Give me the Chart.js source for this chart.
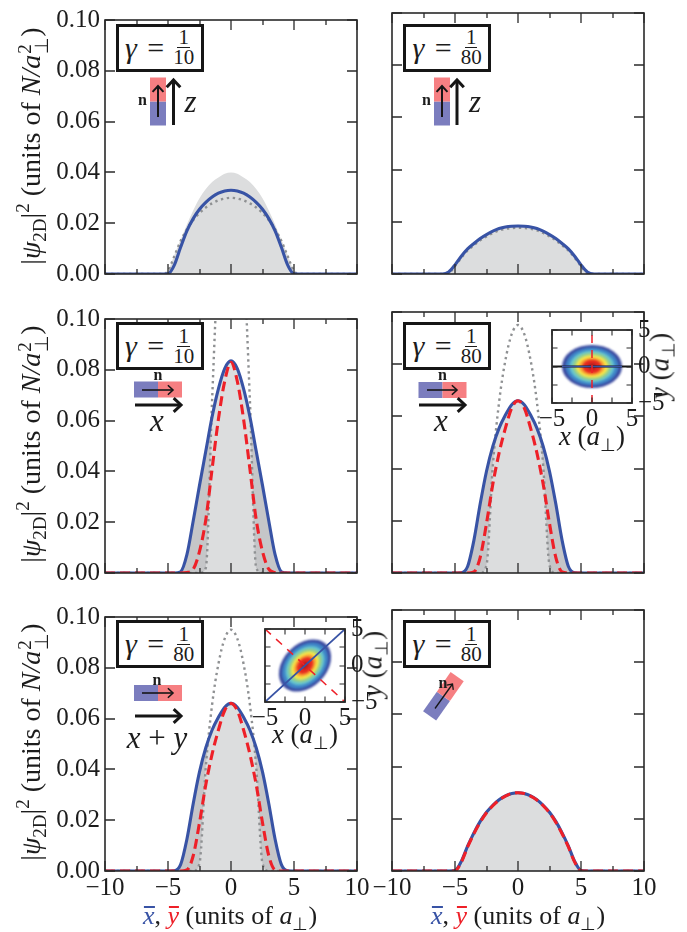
<!DOCTYPE html>
<html>
<head>
<meta charset="utf-8">
<script src="https://cdn.jsdelivr.net/npm/chart.js@4"></script>
<style>
  html, body { margin: 0; padding: 0; background: #fff; }
  #page { position: relative; width: 687px; height: 932px; overflow: hidden; font-family: "Liberation Serif", serif; color: #1c1c1c; }
  canvas { position: absolute; }
  svg { position: absolute; left: 0; top: 0; }
  .t { position: absolute; white-space: nowrap; transform: translate(-50%, -50%); line-height: 1; }
  .v { transform: translate(-50%, -50%) rotate(-90deg); }
  .box { position: absolute; box-sizing: border-box; width: 88px; height: 48px; border: 3px solid #161616; background: #fff;
         display: flex; align-items: center; justify-content: center; font-size: 30px; word-spacing: 3px; }
  .frac { display: inline-flex; flex-direction: column; align-items: center; font-size: 21px; line-height: 19px; margin-left: 9px; }
  .frac b { font-weight: normal; border-bottom: 1.6px solid #1c1c1c; padding: 0 1px; }
  .ss { display: inline-flex; flex-direction: column; font-size: .68em; line-height: .85em; vertical-align: middle; margin-left: 1px; }
  sub { font-size: .68em; line-height: 0; }
  sup { font-size: .68em; line-height: 0; }
  .bar { position: relative; }
  .bar::before { content: ''; position: absolute; left: 1px; right: 0; top: .2em; height: 1.4px; background: currentColor; }
</style>
</head>
<body>
<div id="page"></div>
<script>
// x positions shared by every curve
const xs = [-10, -8, -6.5, -6, -5.5, -5, -4.5, -4, -3.5, -3, -2.5, -2, -1.5, -1, -0.5, 0, 0.5, 1, 1.5, 2, 2.5, 3, 3.5, 4, 4.5, 5, 5.5, 6, 6.5, 8, 10];

// gamma = 1/10, n along z
const zFill10 =   [0, 0, 0, 0, 0, .0012, .0075, .0135, .0195, .025, .0298, .0335, .0362, .038, .0395, .04, .0395, .038, .0362, .0335, .0298, .025, .0195, .0135, .0075, .0012, 0, 0, 0, 0, 0];
const zBlue10 =   [0, 0, 0, 0, 0, .0001, .0035, .0105, .017, .0218, .0255, .0282, .0303, .0318, .0327, .033, .0327, .0318, .0303, .0282, .0255, .0218, .017, .0105, .0035, .0001, 0, 0, 0, 0, 0];
const zDotted10 = [0, 0, 0, 0, 0, .0012, .007, .013, .0176, .0212, .024, .0262, .0278, .029, .0297, .03, .0297, .029, .0278, .0262, .024, .0212, .0176, .013, .007, .0012, 0, 0, 0, 0, 0];

// gamma = 1/80, n along z
const zBlue80 =   [0, 0, 0, 0, .0008, .0035, .0068, .0096, .0117, .0136, .0151, .0164, .0174, .0180, .0183, .0184, .0183, .0180, .0174, .0164, .0151, .0136, .0117, .0096, .0068, .0035, .0008, 0, 0, 0, 0];
const zDotted80 = [0, 0, 0, 0, .0003, .003, .0062, .009, .011, .0129, .0144, .0157, .0167, .0173, .0176, .0177, .0176, .0173, .0167, .0157, .0144, .0129, .011, .009, .0062, .003, .0003, 0, 0, 0, 0];

// gamma = 1/10, n along x
const xBlue10 =   [0, 0, 0, 0, 0, 0, 0, .0005, .0072, .0205, .0345, .048, .0615, .0725, .0805, .0835, .0805, .0725, .0615, .048, .0345, .0205, .0072, .0005, 0, 0, 0, 0, 0, 0, 0];
const xRed10 =    [0, 0, 0, 0, 0, 0, 0, 0, .0002, .0015, .0085, .021, .041, .0605, .0755, .083, .0755, .0605, .041, .021, .0085, .0015, .0002, 0, 0, 0, 0, 0, 0, 0, 0];
const xDotted10 = [0, 0, 0, 0, 0, 0, 0, 0, 0, 0, 0, .002, .068, .125, .155, .165, .155, .125, .068, .002, 0, 0, 0, 0, 0, 0, 0, 0, 0, 0, 0];
const xLight10 =  [0, 0, 0, 0, 0, 0, 0, 0, 0, 0, 0, .002, .0605, .0725, .0805, .0835, .0805, .0725, .0605, .002, 0, 0, 0, 0, 0, 0, 0, 0, 0, 0, 0];

// gamma = 1/80, n along x and along x + y
const xBlue80 =   [0, 0, 0, 0, 0, 0, .0001, .0025, .0125, .0265, .039, .0485, .0555, .0605, .0645, .066, .0645, .0605, .0555, .0485, .039, .0265, .0125, .0025, .0001, 0, 0, 0, 0, 0, 0];
const xRed80 =    [0, 0, 0, 0, 0, 0, 0, 0, .0004, .006, .019, .034, .046, .0555, .0632, .066, .0632, .0555, .046, .034, .019, .006, .0004, 0, 0, 0, 0, 0, 0, 0, 0];
const xDotted80 = [0, 0, 0, 0, 0, 0, 0, 0, 0, 0, .003, .041, .0655, .0815, .0915, .095, .0915, .0815, .0655, .041, .003, 0, 0, 0, 0, 0, 0, 0, 0, 0, 0];
const xLight80 =  [0, 0, 0, 0, 0, 0, 0, 0, 0, 0, .003, .041, .0555, .0605, .0645, .066, .0645, .0605, .0555, .041, .003, 0, 0, 0, 0, 0, 0, 0, 0, 0, 0];

// gamma = 1/80, n tilted
const tBlue80 =   [0, 0, 0, 0, 0, .0002, .0037, .0095, .0146, .019, .0225, .0252, .0273, .0288, .0297, .03, .0297, .0288, .0273, .0252, .0225, .019, .0146, .0095, .0037, .0002, 0, 0, 0, 0, 0];
const tRed80 =    [0, 0, 0, 0, 0, .0001, .0034, .0092, .0143, .0187, .0223, .025, .0272, .0287, .0297, .03, .0297, .0287, .0272, .025, .0223, .0187, .0143, .0092, .0034, .0001, 0, 0, 0, 0, 0];
const tDotted80 = [0, 0, 0, 0, 0, .0002, .0036, .0094, .0145, .0189, .0224, .0251, .0272, .0287, .0296, .0299, .0296, .0287, .0272, .0251, .0224, .0189, .0145, .0094, .0036, .0002, 0, 0, 0, 0, 0];

// inset: density contours, semi-axes in units of a_perp, outermost first
const contourRx = [3.75, 3.3, 2.8, 2.4, 2.0, 1.6, 1.2, 0.55];
const contourRy = [2.95, 2.6, 2.2, 1.9, 1.55, 1.25, 0.95, 0.43];
const contourColors = ['#3a4aa0', '#3f86c8', '#66c4cf', '#9ad08a', '#f5e84b', '#f8a335', '#e62a20', '#b4201f'];
const insetEnds = [-5, 5];
const insetEndsRev = [5, -5];
const insetZero = [0, 0];
const insetSpan = [-3.75, 3.75];

const BLUE = '#3853a5', RED = '#ee2028', GRAY = '#8f9193';
const FONT = { family: '"Liberation Serif", serif', size: 25 };
const page = document.getElementById('page');

function curve(ys, style, order) {
  return Object.assign({
    data: ys.map((y, i) => ({ x: xs[i], y: y })),
    pointRadius: 0, borderWidth: 0, cubicInterpolationMode: 'monotone', order: order
  }, style);
}
const blueLine = ys => curve(ys, { borderColor: BLUE, borderWidth: 3.1 }, 2);
const redLine = ys => curve(ys, { borderColor: RED, borderWidth: 3.1, borderDash: [10, 5] }, 1);
const dotted = ys => curve(ys, { borderColor: GRAY, borderWidth: 2.4, borderDash: [2.4, 3.6] }, 3);
const light = ys => curve(ys, { fill: 'origin', backgroundColor: '#dcddde' }, 4);
const dark = ys => curve(ys, { fill: 'origin', backgroundColor: '#c5c6c8' }, 5);

// matplotlib style: ticks point inwards on all four sides
const innerTicks = {
  id: 'innerTicks',
  afterDatasetsDraw(chart, args, opts) {
    const { ctx, chartArea: a, scales } = chart;
    ctx.save();
    ctx.strokeStyle = '#2a2a2a';
    ctx.lineWidth = opts.width;
    ctx.beginPath();
    scales.x.ticks.forEach(t => {
      const px = Math.round(scales.x.getPixelForValue(t.value));
      const len = t.value % opts.majorX === 0 ? opts.major : opts.minor;
      ctx.moveTo(px, a.bottom); ctx.lineTo(px, a.bottom - len);
      ctx.moveTo(px, a.top); ctx.lineTo(px, a.top + len);
    });
    scales.y.ticks.forEach(t => {
      const py = Math.round(scales.y.getPixelForValue(t.value));
      const len = Math.abs(t.value / opts.majorY - Math.round(t.value / opts.majorY)) < 1e-6 ? opts.major : opts.minor;
      ctx.moveTo(a.left, py); ctx.lineTo(a.left + len, py);
      ctx.moveTo(a.right, py); ctx.lineTo(a.right - len, py);
    });
    ctx.stroke();
    ctx.lineWidth = opts.frame;
    ctx.strokeRect(a.left, a.top, a.right - a.left, a.bottom - a.top);
    ctx.restore();
  }
};

// inset density, filled contours centred on the origin of the inset scales
const contours = {
  id: 'contours',
  beforeDatasetsDraw(chart, args, opts) {
    const { ctx, scales } = chart;
    const cx = scales.x.getPixelForValue(0), cy = scales.y.getPixelForValue(0);
    const ux = scales.x.getPixelForValue(1) - cx, uy = cy - scales.y.getPixelForValue(1);
    ctx.save();
    ctx.filter = 'blur(1px)';
    contourRx.forEach((rx, i) => {
      ctx.fillStyle = contourColors[i];
      ctx.beginPath();
      ctx.ellipse(cx, cy, rx * ux, contourRy[i] * uy, opts.tilt * Math.PI / 180, 0, 2 * Math.PI);
      ctx.fill();
    });
    ctx.restore();
  }
};

function addCanvas(left, top, w, h) {
  const c = document.createElement('canvas');
  c.width = w; c.height = h;
  c.style.left = left + 'px'; c.style.top = top + 'px';
  c.style.width = w + 'px'; c.style.height = h + 'px';
  page.appendChild(c);
  return c;
}

const PLOT_W = 252, PLOT_H = 261, PAD_L = 100, PAD_T = 13, PAD_R = 30, PAD_B = 30;

function panel(left, top, datasets, showX, showY) {
  const c = addCanvas(left - PAD_L, top - PAD_T, PAD_L + PLOT_W + PAD_R, PAD_T + PLOT_H + PAD_B);
  new Chart(c, {
    type: 'line',
    data: { datasets: datasets },
    plugins: [innerTicks],
    options: {
      responsive: false,
      animation: false,
      layout: { padding: { top: PAD_T, right: PAD_R, left: 0, bottom: 0 } },
      plugins: {
        legend: { display: false }, tooltip: { enabled: false },
        innerTicks: { major: 10, minor: 5, width: 1.3, frame: 1.6, majorX: 5, majorY: 0.02 }
      },
      scales: {
        x: {
          type: 'linear', min: -10, max: 10,
          grid: { display: false, tickLength: 0 }, border: { display: false },
          ticks: {
            stepSize: 2.5, display: showX, font: FONT, color: '#1c1c1c', padding: 2, maxRotation: 0, autoSkip: false,
            callback: v => v % 5 === 0 ? String(v).replace('-', '\u2212') : ''
          },
          afterFit: s => { s.height = PAD_B; }
        },
        y: {
          min: 0, max: 0.1,
          grid: { display: false, tickLength: 0 }, border: { display: false },
          ticks: { stepSize: 0.02, display: showY, font: FONT, color: '#1c1c1c', padding: 5, callback: v => v.toFixed(2) },
          afterFit: s => { s.width = PAD_L; }
        }
      }
    }
  });
}

function inset(left, top, lines, tilt) {
  const padL = 25, padT = 14, w = 80, h = 80, padR = 36, padB = 30;
  const c = addCanvas(left - padL, top - padT, padL + w + padR, padT + h + padB);
  new Chart(c, {
    type: 'line',
    data: { datasets: lines },
    plugins: [contours, innerTicks],
    options: {
      responsive: false,
      animation: false,
      layout: { padding: { top: padT, left: padL, right: 0, bottom: 0 } },
      plugins: {
        legend: { display: false }, tooltip: { enabled: false },
        contours: { tilt: tilt },
        innerTicks: { major: 5.5, minor: 5.5, width: 1.1, frame: 1.8, majorX: 2.5, majorY: 2.5 }
      },
      scales: {
        x: {
          type: 'linear', min: -5, max: 5,
          grid: { display: false, tickLength: 0 }, border: { display: false },
          ticks: {
            stepSize: 2.5, font: FONT, color: '#1c1c1c', padding: 1, maxRotation: 0, autoSkip: false,
            callback: v => v % 5 === 0 ? String(v).replace('-', '\u2212') : ''
          },
          afterFit: s => { s.height = padB; }
        },
        y: {
          type: 'linear', position: 'right', min: -5, max: 5,
          grid: { display: false, tickLength: 0 }, border: { display: false },
          ticks: {
            stepSize: 2.5, font: FONT, color: '#1c1c1c', padding: 6, autoSkip: false,
            callback: v => v % 5 === 0 ? String(v).replace('-', '\u2212') : ''
          },
          afterFit: s => { s.width = padR; }
        }
      }
    }
  });
}

function seg(xa, ya, style, order) {
  return Object.assign({ data: xa.map((x, i) => ({ x: x, y: ya[i] })), pointRadius: 0, order: order }, style);
}
const insetBlue = { borderColor: BLUE, borderWidth: 1.7 };
const insetRed = { borderColor: RED, borderWidth: 1.5, borderDash: [8, 7] };
const insetBlack = { borderColor: '#161616', borderWidth: 2 };

panel(105, 13, [light(zFill10), blueLine(zBlue10), dotted(zDotted10)], false, true);
panel(392, 13, [light(zBlue80), dotted(zDotted80), blueLine(zBlue80)], false, false);
panel(105, 312, [dark(xBlue10), light(xLight10), dotted(xDotted10), blueLine(xBlue10), redLine(xRed10)], false, true);
panel(392, 312, [dark(xBlue80), light(xLight80), dotted(xDotted80), blueLine(xBlue80), redLine(xRed80)], false, false);
panel(105, 610, [dark(xBlue80), light(xLight80), dotted(xDotted80), blueLine(xBlue80), redLine(xRed80)], true, true);
panel(392, 610, [light(tBlue80), dotted(tDotted80), blueLine(tBlue80), redLine(tRed80)], true, false);

inset(551.5, 323, [
  seg(insetEnds, insetZero, insetBlack, 3),
  seg(insetSpan, insetZero, insetBlue, 2),
  seg(insetZero, insetEnds, insetRed, 1)
], 0);
inset(265, 622, [
  seg(insetEnds, insetEnds, insetBlue, 2),
  seg(insetEnds, insetEndsRev, insetRed, 1)
], -45);

// --- labels and annotations ---
function text(html, x, y, size, cls) {
  const d = document.createElement('div');
  d.className = 't ' + (cls || '');
  d.style.left = x + 'px'; d.style.top = y + 'px'; d.style.fontSize = size + 'px';
  d.innerHTML = html;
  page.appendChild(d);
}

function gammaBox(x, y, denom) {
  const d = document.createElement('div');
  d.className = 'box';
  d.style.left = x + 'px'; d.style.top = y + 'px';
  d.innerHTML = '<span><i>\u03b3</i> =</span><span class="frac"><b>1</b><span>' + denom + '</span></span>';
  page.appendChild(d);
}

const svgNS = 'http://www.w3.org/2000/svg';
const svg = document.createElementNS(svgNS, 'svg');
svg.setAttribute('width', 687); svg.setAttribute('height', 932);

function el(name, attrs) {
  const e = document.createElementNS(svgNS, name);
  Object.keys(attrs).forEach(k => e.setAttribute(k, attrs[k]));
  svg.appendChild(e);
}

function arrow(x1, y1, x2, y2, width, head) {
  const a = Math.atan2(y2 - y1, x2 - x1);
  const h = (s) => (x2 - head * Math.cos(a + s)) + ',' + (y2 - head * Math.sin(a + s));
  el('polyline', { points: h(0.75) + ' ' + x2 + ',' + y2 + ' ' + h(-0.75), fill: 'none', stroke: '#161616', 'stroke-width': width });
  el('line', { x1: x1, y1: y1, x2: x2, y2: y2, stroke: '#161616', 'stroke-width': width });
}

// magnet bar centred on (cx, cy), blue tail and red head, angle in degrees
function magnet(cx, cy, angle) {
  const tr = 'rotate(' + angle + ' ' + cx + ' ' + cy + ')';
  el('rect', { x: cx - 24, y: cy - 8, width: 24, height: 16, fill: '#7b7dbe', transform: tr });
  el('rect', { x: cx, y: cy - 8, width: 24, height: 16, fill: '#f67f82', transform: tr });
}

// panel 1 and 2
magnet(158, 101.5, -90);
arrow(158, 117, 158, 86, 2, 8);
arrow(173.5, 125, 173.5, 80, 3, 10);
magnet(442, 101.5, -90);
arrow(442, 117, 442, 86, 2, 8);
arrow(457, 125, 457, 80, 3, 10);
// panel 3, 4, 5
magnet(158, 389.5, 0);
arrow(142, 390, 173, 390, 1.6, 7);
arrow(135, 405, 181, 405, 3, 10);
magnet(442.5, 390, 0);
arrow(427, 390, 457, 390, 1.6, 7);
arrow(419, 405, 465, 405, 3, 10);
magnet(158, 693, 0);
arrow(142, 693, 173, 693, 1.6, 7);
arrow(135, 716, 181, 716, 3, 10);
// panel 6
magnet(443.4, 696.3, -55);
arrow(435, 708.5, 452.5, 684, 1.3, 6);
page.appendChild(svg);

gammaBox(115.5, 23.5, '10');
gammaBox(403, 23.5, '80');
gammaBox(115.5, 322, '10');
gammaBox(403, 322, '80');
gammaBox(115.5, 620, '80');
gammaBox(403, 620, '80');

text('<b>n</b>', 142.5, 100, 16);
text('<b>n</b>', 426.5, 100, 16);
text('<b>n</b>', 158, 375, 16);
text('<b>n</b>', 442.5, 375, 16);
text('<b>n</b>', 157, 680, 16);
text('<b>n</b>', 443, 683, 16);
text('<i>z</i>', 190.5, 101, 31);
text('<i>z</i>', 475, 101, 31);
text('<i>x</i>', 157, 420, 31);
text('<i>x</i>', 441, 420, 31);
text('<i>x</i> + <i>y</i>', 157, 737, 31);

const yTitle = '|<i>\u03c8</i><sub>2D</sub>|<sup>2</sup> (units of <i>N/a</i><span class="ss"><span>2</span><span>\u22a5</span></span>)';
text(yTitle, 33, 146, 28, 'v');
text(yTitle, 33, 444, 28, 'v');
text(yTitle, 33, 742, 28, 'v');

const xTitle = '<i class="bar" style="color:#3853a5">x</i>, <i class="bar" style="color:#ee2028">y</i> (units of <i>a</i><sub>\u22a5</sub>)';
text(xTitle, 230, 916, 26);
text(xTitle, 518, 916, 26);

const inX = '<i>x</i> (<i>a</i><sub>\u22a5</sub>)';
const inY = '<i>y</i> (<i>a</i><sub>\u22a5</sub>)';
text(inX, 592, 436, 27);
text(inY, 660, 366, 27, 'v');
text(inX, 305, 734, 27);
text(inY, 373, 664, 27, 'v');
</script>
</body>
</html>
